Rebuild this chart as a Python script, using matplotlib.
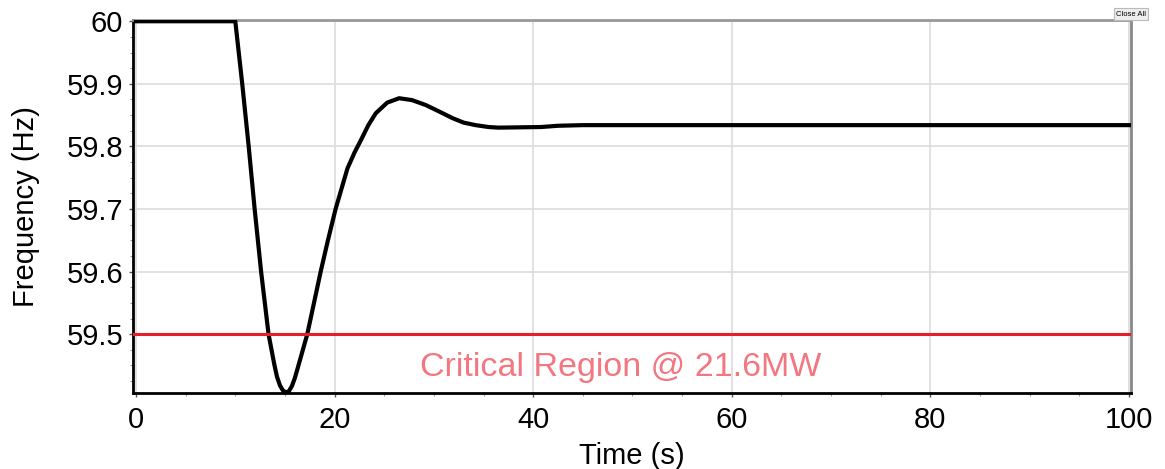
import matplotlib
matplotlib.use("Agg")
import matplotlib.pyplot as plt

# values
time_s = [0, 10, 10.7, 11.35, 11.95, 12.6, 13.35, 13.95, 14.2, 14.5, 14.8, 15.1,
          15.4, 15.7, 16.0, 16.45, 17.25, 17.9, 18.6, 19.3, 20.1, 21.3, 22.0,
          22.65, 23.4, 24.15, 25.3, 26.5, 27.8, 28.5, 29.2, 30.5, 31.9, 33.0,
          34.2, 35.5, 36.5, 40.8, 42.5, 45, 100]
freq_hz = [60.0, 60.0, 59.9, 59.8, 59.7, 59.6, 59.5, 59.45, 59.432, 59.418, 59.41, 59.407,
           59.409, 59.417, 59.43, 59.455, 59.5, 59.548, 59.6, 59.648, 59.7, 59.765, 59.79,
           59.81, 59.834, 59.853, 59.87, 59.877, 59.874, 59.870, 59.866, 59.856, 59.845, 59.838,
           59.834, 59.831, 59.830, 59.831, 59.833, 59.834, 59.834]
critical_freq = 59.5
x_ticks = [0, 20, 40, 60, 80, 100]
y_ticks = [59.5, 59.6, 59.7, 59.8, 59.9, 60]
y_tick_labels = ["59.5", "59.6", "59.7", "59.8", "59.9", "60"]

plt.rcParams['font.family'] = ['Liberation Sans', 'DejaVu Sans']

fig = plt.figure(figsize=(11.65, 4.69), dpi=100)
ax = fig.add_axes([133 / 1165, 1 - 393 / 469, (1131 - 133) / 1165, (393 - 20) / 469])

ax.plot(time_s, freq_hz, color="black", lw=3.0, solid_joinstyle="round", zorder=3)
ax.axhline(critical_freq, color="#e61e28", lw=2.2, zorder=4)
ax.text(48.8, 59.447, "Critical Region @ 21.6MW", color="#f27780",
        fontsize=24.5, ha="center", va="center", zorder=5)

ax.set_xlim(-0.3, 100.2)
ax.set_ylim(59.406, 60.002)
ax.set_xticks(x_ticks)
ax.set_xticks(range(5, 100, 5), minor=True)
ax.set_yticks(y_ticks)
ax.set_yticklabels(y_tick_labels)
ax.set_yticks([59.425, 59.45, 59.475, 59.525, 59.55, 59.575, 59.625, 59.65, 59.675,
               59.725, 59.75, 59.775, 59.825, 59.85, 59.875, 59.925, 59.95, 59.975],
              minor=True)
ax.tick_params(axis="both", which="major", labelsize=21, length=3, width=1, color="#555555")
ax.tick_params(axis="both", which="minor", length=2, width=0.8, color="#999999")
ax.tick_params(axis="x", which="major", pad=6)
ax.tick_params(axis="y", which="major", pad=4)

ax.grid(True, which="major", color="#dcdcdc", lw=1.2)
ax.set_axisbelow(True)

ax.spines["left"].set_linewidth(2)
ax.spines["bottom"].set_linewidth(2)
ax.spines["top"].set_color("#999999")
ax.spines["top"].set_linewidth(2)
ax.spines["right"].set_color("#888888")
ax.spines["right"].set_linewidth(2)

ax.set_xlabel("Time (s)", fontsize=21, labelpad=6)
ax.set_ylabel("Frequency (Hz)", fontsize=21, labelpad=19)

fig.text(1131 / 1165, 1 - 14 / 469, "Close All", fontsize=5.5, ha="center", va="center",
         bbox=dict(boxstyle="square,pad=0.3", fc="#eeeeee", ec="#bbbbbb", lw=0.8))

plt.savefig("out.png", dpi=100)
